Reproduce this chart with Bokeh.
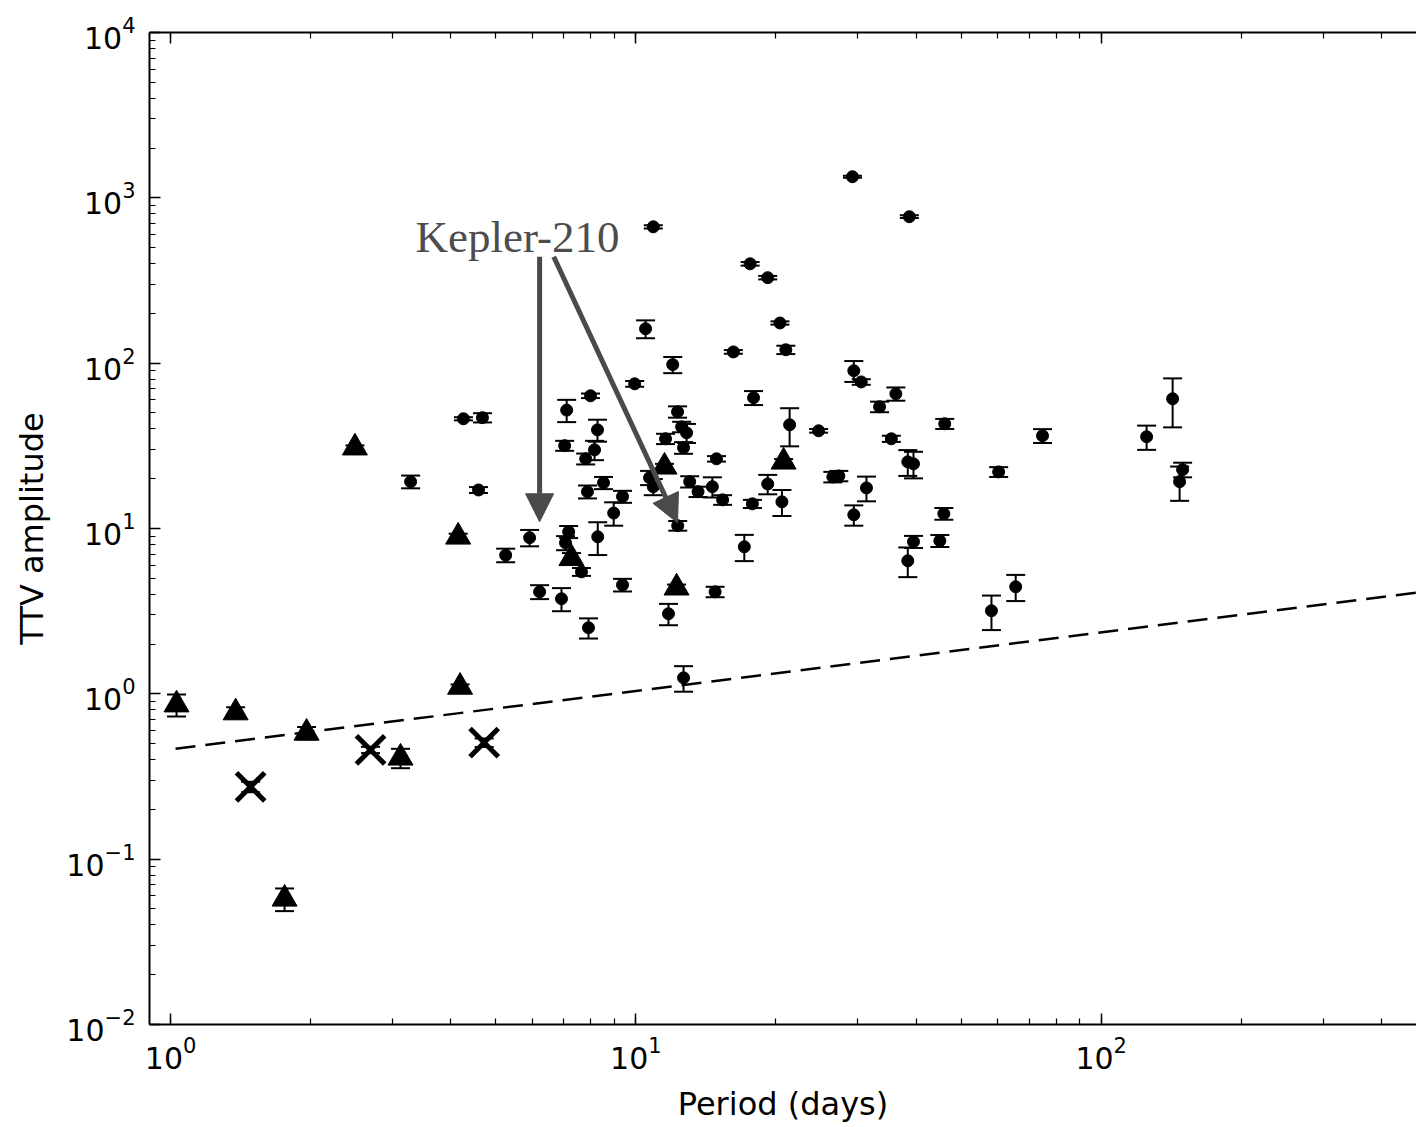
from bokeh.plotting import figure
from bokeh.models import (ColumnDataSource, Whisker, TeeHead, Arrow, NormalHead,
                          LogAxis, LogTicker, Label, Range1d)
from bokeh.embed import file_html
from bokeh.resources import INLINE

# ---- data ----
circ_period = [4.26, 4.68, 3.28, 4.59, 5.91, 5.25, 6.21, 12.0, 9.94, 7.99,
               7.10, 8.27, 7.03, 8.15, 7.80, 12.29, 12.54, 12.85, 12.66, 11.58,
               7.87, 8.52, 9.36, 8.96, 10.7, 10.9, 13.05, 13.6, 14.6, 15.36,
               14.9, 17.8, 19.2, 20.6, 17.9, 21.4, 16.2, 21.0, 12.3, 9.36,
               14.8, 11.75, 12.66, 17.1, 7.17, 7.06, 7.64, 8.28, 6.92, 7.91,
               29.2, 38.7, 17.6, 19.2, 20.4, 24.7, 29.4, 30.5, 33.4, 36.2,
               35.4, 46.1, 26.5, 27.3, 31.3, 29.4, 38.4, 39.5, 45.9, 45.0,
               39.5, 38.4, 60.2, 74.8, 125.2, 142.4, 149.6, 147.4, 58.1, 65.5,
               10.49, 10.9]
circ_amp = [46.1, 46.8, 19.2, 17.1, 8.8, 6.9, 4.14, 98.0, 75.0, 63.5,
            52.0, 39.5, 31.7, 29.9, 26.4, 50.8, 41.2, 37.9, 30.8, 34.9,
            16.7, 18.9, 15.6, 12.4, 20.3, 17.9, 19.2, 16.7, 17.9, 14.9,
            26.4, 14.1, 18.6, 14.5, 61.8, 42.4, 117.0, 120.5, 10.4, 4.56,
            4.14, 3.05, 1.25, 7.75, 9.55, 8.19, 5.47, 8.91, 3.76, 2.51,
            1342.0, 769.0, 399.0, 329.0, 175.0, 39.0, 90.0, 77.0, 54.5, 65.3,
            34.9, 43.0, 20.5, 20.8, 17.6, 12.1, 25.3, 24.6, 12.3, 8.43,
            8.32, 6.38, 22.0, 36.4, 35.9, 60.9, 22.7, 19.2, 3.18, 4.44,
            161.5, 668.0]
circ_err = [1.0, 3.0, 1.7, 0.7, 1.0, 0.65, 0.4, 11.0, 3.0, 2.0,
            8.0, 6.0, 2.2, 4.0, 2.0, 4.0, 3.0, 5.0, 2.5, 2.5,
            1.5, 1.6, 1.3, 2.0, 2.0, 2.0, 1.5, 1.2, 2.5, 1.0,
            1.0, 0.8, 2.5, 2.6, 6.0, 11.0, 3.0, 7.0, 0.7, 0.4,
            0.3, 0.45, 0.22, 1.4, 0.8, 0.8, 0.3, 2.0, 0.6, 0.35,
            20.0, 15.0, 10.0, 8.0, 4.0, 1.0, 13.0, 3.0, 4.0, 6.0,
            1.5, 3.0, 1.5, 1.5, 3.0, 1.7, 4.5, 4.5, 1.0, 0.7,
            0.7, 1.3, 1.5, 3.5, 6.0, 20.0, 2.3, 4.5, 0.75, 0.8,
            20.0, 15.0]

tri_period = [1.03, 1.38, 1.96, 1.758, 3.12, 4.19, 2.49, 4.15, 7.27, 11.52, 12.23, 20.77]
tri_amp = [0.86, 0.77, 0.58, 0.0575, 0.41, 1.10, 30.8, 8.9, 6.6, 23.6, 4.38, 25.3]
tri_err = [0.13, 0.06, 0.05, 0.009, 0.055, 0.04, 1.0, 0.4, 0.5, 1.0, 0.2, 1.0]

x_period = [1.486, 2.69, 4.72]
x_amp = [0.274, 0.458, 0.507]
x_err = [0.02, 0.02, 0.03]

dash_period = [1.025, 500.0]
dash_amp = [0.465, 4.16]

annot_text = "Kepler-210"

# ---- figure ----
p = figure(width=1416, height=1127, x_axis_type="log", y_axis_type="log",
           x_range=Range1d(0.901, 476), y_range=Range1d(0.01, 10000),
           output_backend="svg", toolbar_location=None,
           min_border_left=149, min_border_right=0, min_border_top=32,
           min_border_bottom=103, background_fill_color="white",
           border_fill_color="white")
p.outline_line_color = None
p.grid.visible = False


def style(ax, labels=True):
    ax.major_tick_in = 11
    ax.major_tick_out = 0
    ax.minor_tick_in = 6
    ax.minor_tick_out = 0
    ax.axis_line_width = 2
    ax.axis_line_color = "black"
    ax.major_tick_line_width = 1.5
    ax.minor_tick_line_width = 1.2
    ax.major_tick_line_color = "black"
    ax.minor_tick_line_color = "black"
    ax.ticker.num_minor_ticks = 10
    ax.major_label_text_font = "DejaVu Sans"
    ax.major_label_text_color = "black"
    if labels:
        ax.major_label_text_font_size = "30px"
    else:
        ax.major_label_text_font_size = "2px"
        ax.major_label_text_alpha = 0
        ax.major_label_standoff = 0


style(p.xaxis[0])
style(p.yaxis[0])
p.xaxis.major_label_standoff = 11
p.yaxis.major_label_standoff = 14

p.xaxis.axis_label = "Period (days)"
p.yaxis.axis_label = "TTV amplitude"
for ax in (p.xaxis[0], p.yaxis[0]):
    ax.axis_label_text_font = "DejaVu Sans"
    ax.axis_label_text_font_size = "32px"
    ax.axis_label_text_font_style = "normal"
    ax.axis_label_text_color = "black"
p.xaxis.axis_label_standoff = 13
p.yaxis.axis_label_standoff = 12

top = LogAxis(ticker=LogTicker(num_minor_ticks=10))
style(top, labels=False)
p.add_layout(top, "above")

# ---- dashed reference line ----
p.line(dash_period, dash_amp, line_dash="20 10", line_width=2.5, line_color="black")


def add_errors(px, py, pe):
    src = ColumnDataSource(dict(
        x=px,
        upper=[a + e for a, e in zip(py, pe)],
        lower=[max(a - e, 1e-3) for a, e in zip(py, pe)]))
    w = Whisker(base="x", upper="upper", lower="lower", source=src,
                line_color="black", line_width=2,
                upper_head=TeeHead(size=19, line_width=2, line_color="black"),
                lower_head=TeeHead(size=19, line_width=2, line_color="black"))
    p.add_layout(w)


add_errors(circ_period, circ_amp, circ_err)
add_errors(tri_period, tri_amp, tri_err)
add_errors(x_period, x_amp, x_err)

p.scatter(circ_period, circ_amp, marker="circle", size=12, color="black")
p.scatter(tri_period, tri_amp, marker="triangle", size=25, color="black")
p.scatter(x_period, x_amp, marker="x", size=40, line_width=5, line_color="black")

# ---- annotation ----
gray = "#4a4a4a"
p.add_layout(Arrow(end=NormalHead(size=28, fill_color=gray, line_color=gray),
                   x_start=6.21, y_start=440, x_end=6.21, y_end=10.98,
                   line_color=gray, line_width=5))
p.add_layout(Arrow(end=NormalHead(size=28, fill_color=gray, line_color=gray),
                   x_start=6.66, y_start=440, x_end=12.29, y_end=10.83,
                   line_color=gray, line_width=5))
p.add_layout(Label(x=3.36, y=580, text=annot_text, text_font="Liberation Serif",
                   text_font_size="45px", text_color="#4d4d4d",
                   text_baseline="alphabetic"))

open("out.html", "w").write(file_html(p, INLINE))
